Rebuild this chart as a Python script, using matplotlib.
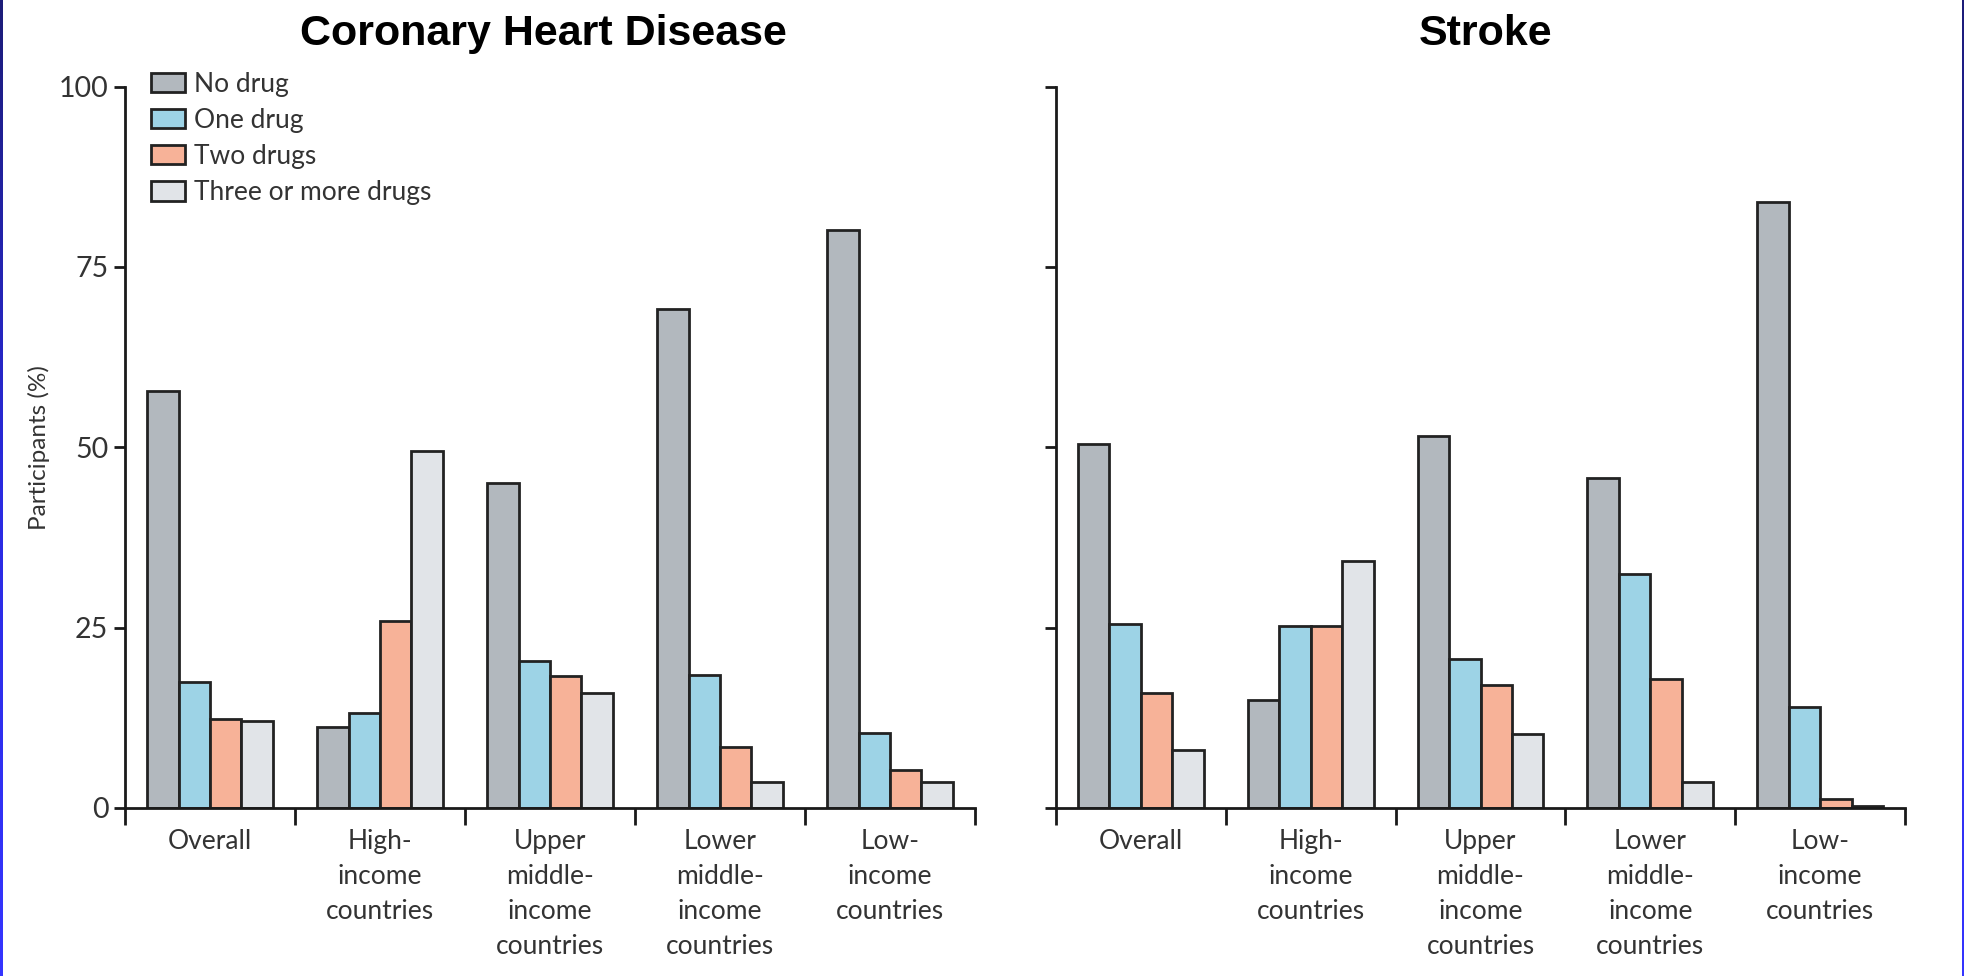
import numpy as np
import matplotlib
matplotlib.use("Agg")
import matplotlib.pyplot as plt
from matplotlib.patches import Patch
from matplotlib.colors import LinearSegmentedColormap

# data (percent of participants)
groups = ["Overall", "High-\nincome\ncountries", "Upper\nmiddle-\nincome\ncountries",
          "Lower\nmiddle-\nincome\ncountries", "Low-\nincome\ncountries"]
series = ["No drug", "One drug", "Two drugs", "Three or more drugs"]

chd_none = [57.8, 11.2, 45.0, 69.1, 80.1]
chd_one = [17.4, 13.2, 20.4, 18.5, 10.4]
chd_two = [12.4, 25.9, 18.3, 8.4, 5.3]
chd_three = [12.1, 49.5, 15.9, 3.6, 3.6]

stroke_none = [50.5, 14.9, 51.5, 45.8, 84.0]
stroke_one = [25.5, 25.2, 20.6, 32.5, 14.0]
stroke_two = [15.9, 25.2, 17.1, 17.9, 1.3]
stroke_three = [8.0, 34.3, 10.3, 3.6, 0.3]

colors = ["#b2b8be", "#9dd3e6", "#f7b298", "#e1e4e8"]
edge = "#222222"
txt = "#333333"

plt.rcParams["font.family"] = ["Lato", "DejaVu Sans"]

fig = plt.figure(figsize=(19.65, 9.76), dpi=100)
fig.patch.set_facecolor("white")

# thin blue slide border left/right
grad = np.linspace(0, 1, 256).reshape(-1, 1)
bcmap = LinearSegmentedColormap.from_list("b", ["#1c1c78", "#2a2ae0", "#3535ff"])
for x0 in [0.0, 1 - 3 / 1965]:
    bax = fig.add_axes([x0, 0, 3 / 1965, 1])
    bax.imshow(grad, aspect="auto", cmap=bcmap)
    bax.axis("off")

ax1 = fig.add_axes([125 / 1965, 168 / 976, 850 / 1965, 721.5 / 976])
ax2 = fig.add_axes([1056 / 1965, 168 / 976, 849 / 1965, 721.5 / 976])

width = 0.185
offsets = (np.arange(4) - 1.5) * width
centers = np.arange(len(groups)) + 0.5

for ax, data, title, tcx in [
    (ax1, [chd_none, chd_one, chd_two, chd_three], "Coronary Heart Disease", 543),
    (ax2, [stroke_none, stroke_one, stroke_two, stroke_three], "Stroke", 1486),
]:
    for i, vals in enumerate(data):
        ax.bar(centers + offsets[i], vals, width, color=colors[i], edgecolor=edge,
               linewidth=2.0, zorder=2)
    ax.set_xlim(0, 5)
    ax.set_ylim(0, 100)
    for s in ["top", "right"]:
        ax.spines[s].set_visible(False)
    for s in ["left", "bottom"]:
        ax.spines[s].set_linewidth(2.0)
        ax.spines[s].set_color("#1a1a1a")
    ax.set_yticks([0, 25, 50, 75, 100])
    ax.set_xticks(np.arange(6))
    ax.set_xticklabels([])
    ax.set_xticks(centers, minor=True)
    ax.set_xticklabels(groups, minor=True, fontsize=19, color=txt, linespacing=1.5)
    ax.tick_params(axis="x", which="major", length=12, width=2.0, color="#1a1a1a")
    ax.tick_params(axis="x", which="minor", length=0, pad=15)
    ax.tick_params(axis="y", length=8, width=2.0, color="#1a1a1a", labelsize=20.5,
                   labelcolor=txt, pad=4)
    fig.text(tcx / 1965, 1 - 34 / 976, title, ha="center", va="center",
             fontsize=31, fontweight="bold", family="Liberation Sans", color="black")

ax2.set_yticklabels([])
ax1.set_ylabel("Participants (%)", fontsize=17.5, color=txt, labelpad=6)

handles = [Patch(facecolor=c, edgecolor=edge, linewidth=2.0) for c in colors]
ax1.legend(handles, series, loc="upper left", bbox_to_anchor=(0.018, 1.035),
           frameon=False, fontsize=19, labelcolor=txt, handlelength=1.3,
           handleheight=0.75, handletextpad=0.35, labelspacing=0.42, borderaxespad=0)

fig.savefig("out.png", dpi=100, facecolor="white")
